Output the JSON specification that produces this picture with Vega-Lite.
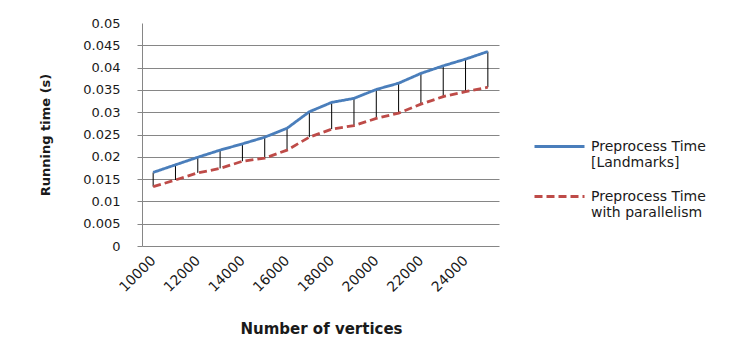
{
  "$schema": "https://vega.github.io/schema/vega-lite/v6.json",
  "width": 357,
  "height": 223,
  "autosize": {"type": "none"},
  "padding": {"left": 142, "top": 23, "right": 236, "bottom": 106},
  "background": "white",
  "config": {
    "view": {"stroke": null},
    "font": "DejaVu Sans"
  },
  "data": {
    "values": [
      {"v": 10000, "landmarks": 0.0165, "parallel": 0.0133},
      {"v": 11000, "landmarks": 0.0182, "parallel": 0.0148},
      {"v": 12000, "landmarks": 0.0199, "parallel": 0.0164},
      {"v": 13000, "landmarks": 0.0215, "parallel": 0.0174},
      {"v": 14000, "landmarks": 0.0229, "parallel": 0.0190},
      {"v": 15000, "landmarks": 0.0244, "parallel": 0.0197},
      {"v": 16000, "landmarks": 0.0264, "parallel": 0.0215},
      {"v": 17000, "landmarks": 0.0301, "parallel": 0.0244},
      {"v": 18000, "landmarks": 0.0322, "parallel": 0.0262},
      {"v": 19000, "landmarks": 0.0331, "parallel": 0.0270},
      {"v": 20000, "landmarks": 0.0351, "parallel": 0.0286},
      {"v": 21000, "landmarks": 0.0365, "parallel": 0.0298},
      {"v": 22000, "landmarks": 0.0387, "parallel": 0.0318},
      {"v": 23000, "landmarks": 0.0404, "parallel": 0.0335},
      {"v": 24000, "landmarks": 0.0419, "parallel": 0.0346},
      {"v": 25000, "landmarks": 0.0436, "parallel": 0.0356}
    ]
  },
  "encoding": {
    "x": {
      "field": "v",
      "type": "ordinal",
      "scale": {"type": "point", "padding": 0.5},
      "axis": {
        "title": "Number of vertices",
        "values": [10000, 12000, 14000, 16000, 18000, 20000, 22000, 24000],
        "tickCount": 16,
        "labelAngle": -45,
        "labelAlign": "right",
        "labelBaseline": "middle",
        "labelPadding": 12,
        "labelFontSize": 14,
        "labelColor": "#1a1a1a",
        "labelFont": "DejaVu Sans",
        "labelOverlap": false,
        "domain": false,
        "ticks": false,
        "grid": false,
        "titleFont": "DejaVu Sans",
        "titleFontSize": 15,
        "titleFontWeight": "bold",
        "titleColor": "#1a1a1a",
        "titleX": 179,
        "titleY": 82,
        "titleBaseline": "middle",
        "titleAlign": "center"
      }
    }
  },
  "layer": [
    {
      "mark": {"type": "rule", "color": "black", "strokeWidth": 1},
      "encoding": {
        "y": {
          "field": "landmarks",
          "type": "quantitative",
          "scale": {"domain": [0, 0.05], "nice": false, "zero": true},
          "axis": {
            "title": "Running time (s)",
            "values": [0, 0.005, 0.01, 0.015, 0.02, 0.025, 0.03, 0.035, 0.04, 0.045, 0.05],
            "tickCount": 11,
            "format": "~g",
            "labelFont": "DejaVu Sans",
            "labelFontSize": 13,
            "labelColor": "#1a1a1a",
            "labelPadding": 17,
            "labelOverlap": false,
            "tickSize": 5,
            "tickColor": {"condition": {"test": "datum.value > 0.0499", "value": "transparent"}, "value": "#868686"},
            "domainColor": "#868686",
            "grid": true,
            "gridColor": {"condition": {"test": "datum.value > 0.0499", "value": "transparent"}, "value": "#868686"},
            "gridWidth": 1,
            "titleFont": "DejaVu Sans",
            "titleFontSize": 13,
            "titleFontWeight": "bold",
            "titleColor": "#1a1a1a",
            "titleX": -97,
            "titleBaseline": "middle"
          }
        },
        "y2": {"field": "parallel"}
      }
    },
    {
      "transform": [{"fold": ["landmarks", "parallel"], "as": ["series", "val"]}],
      "mark": {"type": "line", "strokeWidth": 2.8},
      "encoding": {
        "y": {
          "field": "val",
          "type": "quantitative",
          "axis": {
            "title": "Running time (s)",
            "values": [0, 0.005, 0.01, 0.015, 0.02, 0.025, 0.03, 0.035, 0.04, 0.045, 0.05],
            "tickCount": 11,
            "format": "~g",
            "labelFont": "DejaVu Sans",
            "labelFontSize": 13,
            "labelColor": "#1a1a1a",
            "labelPadding": 17,
            "labelOverlap": false,
            "tickSize": 5,
            "tickColor": {"condition": {"test": "datum.value > 0.0499", "value": "transparent"}, "value": "#868686"},
            "domainColor": "#868686",
            "grid": true,
            "gridColor": {"condition": {"test": "datum.value > 0.0499", "value": "transparent"}, "value": "#868686"},
            "gridWidth": 1,
            "titleFont": "DejaVu Sans",
            "titleFontSize": 13,
            "titleFontWeight": "bold",
            "titleColor": "#1a1a1a",
            "titleX": -97,
            "titleBaseline": "middle"
          }
        },
        "color": {
          "field": "series",
          "type": "nominal",
          "scale": {"domain": ["landmarks", "parallel"], "range": ["#4a7ebb", "#be4b48"]},
          "legend": {
            "title": null,
            "orient": "none",
            "legendX": 391,
            "legendY": 97,
            "symbolType": "stroke",
            "symbolSize": 2500,
            "symbolStrokeWidth": 3,
            "labelFont": "DejaVu Sans",
            "labelFontSize": 14,
            "labelColor": "#1a1a1a",
            "labelOffset": 5,
            "labelLimit": 300,
            "rowPadding": 0,
            "labelExpr": "datum.label == 'landmarks' ? ['Preprocess Time', '[Landmarks]'] : ['Preprocess Time', 'with parallelism']"
          }
        },
        "strokeDash": {
          "field": "series",
          "type": "nominal",
          "scale": {"domain": ["landmarks", "parallel"], "range": [[1, 0], [8, 4]]},
          "legend": {
            "title": null,
            "orient": "none",
            "legendX": 391,
            "legendY": 97,
            "symbolType": "stroke",
            "symbolSize": 2500,
            "symbolStrokeWidth": 3,
            "labelFont": "DejaVu Sans",
            "labelFontSize": 14,
            "labelColor": "#1a1a1a",
            "labelOffset": 5,
            "labelLimit": 300,
            "rowPadding": 0,
            "labelExpr": "datum.label == 'landmarks' ? ['Preprocess Time', '[Landmarks]'] : ['Preprocess Time', 'with parallelism']"
          }
        }
      }
    }
  ]
}
